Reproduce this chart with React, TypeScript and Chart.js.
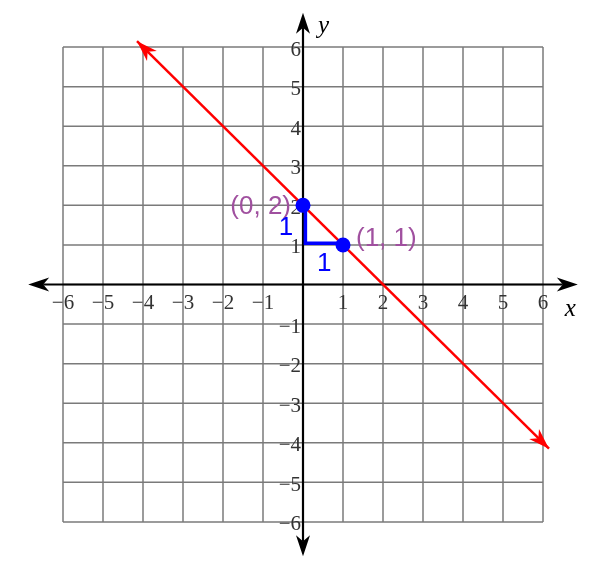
import React, { useEffect, useRef } from "react";
import Chart from "chart.js/auto";

// grid and tick values
const gridTicks = [-6, -5, -4, -3, -2, -1, 0, 1, 2, 3, 4, 5, 6];
const tickLabels = ["−6", "−5", "−4", "−3", "−2", "−1", "", "1", "2", "3", "4", "5", "6"];
const axisExtent = 6.87;

// the line y = 2 - x (drawn segment ends)
const lineX = [-4.15, 6.15];
const lineY = [6.15, -4.15];

// marked points
const pointX = [0, 1];
const pointY = [2, 1];
const pointLabels = ["(0, 2)", "(1, 1)"];

// rise / run
const riseRunX = [0.06, 0.06, 1];
const riseRunY = [2, 1.04, 1.04];
const riseRunLabels = ["1", "1"];

const PURPLE = "#a0509f";
const BLUE = "#0000ff";

// eslint-disable-next-line @typescript-eslint/no-explicit-any
const arrowHead = (ctx: any, tx: number, ty: number, fx: number, fy: number, color: string) => {
  const len = 21;
  const half = 7;
  const notch = 6;
  const d = Math.hypot(tx - fx, ty - fy);
  const ux = (tx - fx) / d;
  const uy = (ty - fy) / d;
  const px = -uy;
  const py = ux;
  ctx.fillStyle = color;
  ctx.beginPath();
  ctx.moveTo(tx, ty);
  ctx.lineTo(tx - len * ux + half * px, ty - len * uy + half * py);
  ctx.lineTo(tx - (len - notch) * ux, ty - (len - notch) * uy);
  ctx.lineTo(tx - len * ux - half * px, ty - len * uy - half * py);
  ctx.closePath();
  ctx.fill();
};

// eslint-disable-next-line @typescript-eslint/no-explicit-any
const axisArrow = (ctx: any, x1: number, y1: number, x2: number, y2: number) => {
  const d = Math.hypot(x2 - x1, y2 - y1);
  const ux = (x2 - x1) / d;
  const uy = (y2 - y1) / d;
  ctx.strokeStyle = "#000";
  ctx.lineWidth = 2.2;
  ctx.beginPath();
  ctx.moveTo(x1 + 15 * ux, y1 + 15 * uy);
  ctx.lineTo(x2 - 15 * ux, y2 - 15 * uy);
  ctx.stroke();
  arrowHead(ctx, x2, y2, x1, y1, "#000");
  arrowHead(ctx, x1, y1, x2, y2, "#000");
};

const planePlugin = {
  id: "plane",
  // eslint-disable-next-line @typescript-eslint/no-explicit-any
  beforeDatasetsDraw(chart: any) {
    const { ctx } = chart;
    const xs = chart.scales.x;
    const ys = chart.scales.y;
    const x0 = xs.getPixelForValue(0);
    const y0 = ys.getPixelForValue(0);
    ctx.save();

    // grid
    ctx.strokeStyle = "#7a7a7a";
    ctx.lineWidth = 1.5;
    gridTicks.forEach((t) => {
      ctx.beginPath();
      ctx.moveTo(xs.getPixelForValue(t), ys.getPixelForValue(-6));
      ctx.lineTo(xs.getPixelForValue(t), ys.getPixelForValue(6));
      ctx.stroke();
      ctx.beginPath();
      ctx.moveTo(xs.getPixelForValue(-6), ys.getPixelForValue(t));
      ctx.lineTo(xs.getPixelForValue(6), ys.getPixelForValue(t));
      ctx.stroke();
    });

    // tick labels
    ctx.fillStyle = "#333333";
    ctx.font = '21px "Liberation Serif"';
    ctx.textBaseline = "alphabetic";
    gridTicks.forEach((t, i) => {
      if (!tickLabels[i]) return;
      ctx.textAlign = "center";
      ctx.fillText(tickLabels[i], xs.getPixelForValue(t), y0 + 24);
      ctx.textAlign = "right";
      ctx.fillText(tickLabels[i], x0 - 2, ys.getPixelForValue(t) + 8.5);
    });

    // axes
    axisArrow(ctx, xs.getPixelForValue(-axisExtent), y0, xs.getPixelForValue(axisExtent), y0);
    axisArrow(ctx, x0, ys.getPixelForValue(-axisExtent), x0, ys.getPixelForValue(axisExtent));

    // axis names
    ctx.fillStyle = "#000";
    ctx.font = 'italic 25px "Liberation Serif"';
    ctx.textAlign = "left";
    ctx.fillText("x", xs.getPixelForValue(axisExtent) - 13, y0 + 31);
    ctx.fillText("y", x0 + 15, ys.getPixelForValue(axisExtent) + 20);
    ctx.restore();
  },
  // eslint-disable-next-line @typescript-eslint/no-explicit-any
  afterDatasetsDraw(chart: any) {
    const { ctx } = chart;
    const xs = chart.scales.x;
    const ys = chart.scales.y;
    ctx.save();

    // red arrowheads at both ends
    const ax = xs.getPixelForValue(lineX[0]);
    const ay = ys.getPixelForValue(lineY[0]);
    const bx = xs.getPixelForValue(lineX[1]);
    const by = ys.getPixelForValue(lineY[1]);
    arrowHead(ctx, ax, ay, bx, by, "#ff0000");
    arrowHead(ctx, bx, by, ax, ay, "#ff0000");

    // point labels
    ctx.font = '26px "Liberation Sans"';
    ctx.textBaseline = "alphabetic";
    ctx.fillStyle = PURPLE;
    ctx.textAlign = "right";
    ctx.fillText(pointLabels[0], xs.getPixelForValue(pointX[0]) - 12, ys.getPixelForValue(pointY[0]) + 9);
    ctx.textAlign = "left";
    ctx.fillText(pointLabels[1], xs.getPixelForValue(pointX[1]) + 13, ys.getPixelForValue(pointY[1]) + 1);

    // rise / run labels
    ctx.fillStyle = BLUE;
    ctx.textAlign = "center";
    const midRiseY = (riseRunY[0] + riseRunY[1]) / 2;
    const midRunX = (riseRunX[1] + riseRunX[2]) / 2;
    ctx.fillText(riseRunLabels[0], xs.getPixelForValue(0) - 17, ys.getPixelForValue(midRiseY) + 11);
    ctx.fillText(riseRunLabels[1], xs.getPixelForValue(midRunX), ys.getPixelForValue(riseRunY[2]) + 28);
    ctx.restore();
  },
};

const App = () => {
  const chartRef = useRef<HTMLCanvasElement>(null);
  const chartInstanceRef = useRef<Chart | null>(null);

  useEffect(() => {
    if (!chartRef.current) return;
    const ctx = chartRef.current.getContext("2d");
    if (!ctx) return;

    if (chartInstanceRef.current) {
      chartInstanceRef.current.destroy();
    }

    // eslint-disable-next-line @typescript-eslint/no-explicit-any
    chartInstanceRef.current = new Chart(ctx as any, {
      type: "scatter",
      data: {
        datasets: [
          {
            label: "points",
            data: pointX.map((v, i) => ({ x: v, y: pointY[i] })),
            pointRadius: 7.5,
            backgroundColor: BLUE,
            borderWidth: 0,
            showLine: false,
          },
          {
            label: "rise-run",
            data: riseRunX.map((v, i) => ({ x: v, y: riseRunY[i] })),
            showLine: true,
            pointRadius: 0,
            borderColor: BLUE,
            borderWidth: 3.5,
            borderJoinStyle: "miter",
            fill: false,
          },
          {
            label: "y = 2 - x",
            data: lineX.map((v, i) => ({ x: v, y: lineY[i] })),
            showLine: true,
            pointRadius: 0,
            borderColor: "#ff0000",
            borderWidth: 2.5,
            fill: false,
          },
        ],
      },
      options: {
        animation: false,
        responsive: true,
        maintainAspectRatio: false,
        events: [],
        layout: { padding: { left: 23, right: 26, top: 5.5, bottom: 3.5 } },
        scales: {
          x: { type: "linear", min: -7, max: 7, display: false },
          y: { type: "linear", min: -7, max: 7, display: false },
        },
        plugins: {
          legend: { display: false },
          tooltip: { enabled: false },
        },
      },
      plugins: [planePlugin],
    });

    return () => {
      if (chartInstanceRef.current) {
        chartInstanceRef.current.destroy();
      }
    };
  }, []);

  return (
    <div style={{ position: "absolute", left: 0, top: 0, width: "609px", height: "569px", background: "#fff" }}>
      <canvas ref={chartRef} />
    </div>
  );
};

export default App;
